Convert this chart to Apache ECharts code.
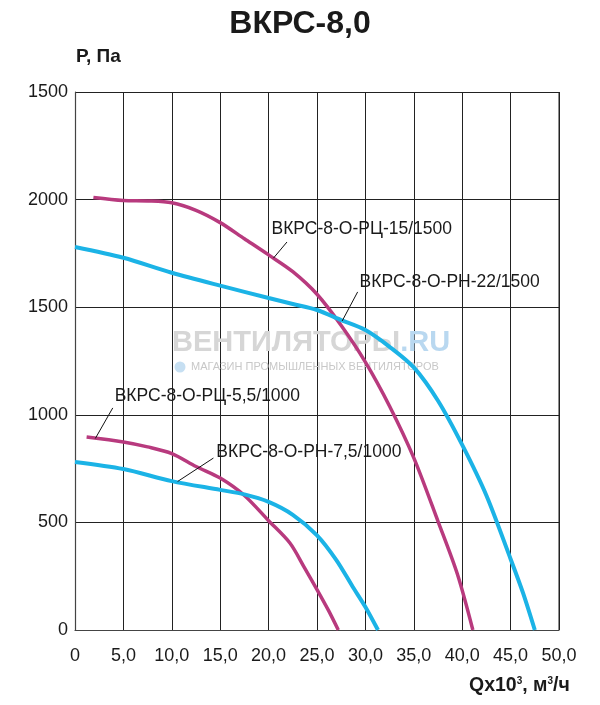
<!DOCTYPE html>
<html><head><meta charset="utf-8">
<script src="https://cdn.jsdelivr.net/npm/echarts@6/dist/echarts.min.js"></script>
<style>html,body{margin:0;padding:0;background:#fff}#c{width:600px;height:705px}</style>
</head><body><div id="c"></div>
<script>
// ---- data ----
const xTickLabels = ['0','5,0','10,0','15,0','20,0','25,0','30,0','35,0','40,0','45,0','50,0'];
const yTickLabels = ['0','500','1000','1500','2000','1500'];

const rc15_q = [1.9, 5.0, 7.5, 10.0, 12.5, 15.0, 17.5, 20.0, 22.5, 25.0, 27.5, 30.0, 32.5, 35.0, 37.5, 39.5, 41.1];
const rc15_p = [2010, 1996, 1994, 1985, 1950, 1893, 1818, 1743, 1665, 1560, 1415, 1245, 1040, 800, 505, 260, 0];

const rn22_q = [0, 5.0, 10.0, 15.0, 20.0, 22.5, 25.0, 27.5, 30.0, 32.5, 35.0, 37.5, 40.0, 42.5, 45.0, 46.3, 47.5];
const rn22_p = [1780, 1730, 1660, 1600, 1543, 1515, 1487, 1440, 1394, 1316, 1220, 1065, 860, 625, 330, 170, 0];

const rc55_q = [1.2, 5.0, 7.5, 10.0, 12.5, 15.0, 17.5, 20.0, 22.2, 23.7, 25.0, 26.2, 27.2];
const rc55_p = [897, 874, 851, 820, 760, 706, 625, 508, 404, 290, 188, 90, 0];

const rn75_q = [0, 5.0, 10.0, 15.0, 17.5, 20.0, 22.5, 25.0, 27.0, 28.7, 30.0, 31.3];
const rn75_p = [781, 748, 692, 651, 630, 595, 535, 440, 325, 200, 107, 0];

const seriesNames = ['ВКРС-8-О-РЦ-15/1500','ВКРС-8-О-РН-22/1500','ВКРС-8-О-РЦ-5,5/1000','ВКРС-8-О-РН-7,5/1000'];
// leader lines: from label (q,p) to curve point (q,p)
const leaderFrom = [[21.9,1803],[29.2,1571],[3.9,1032],[14.3,799]];
const leaderTo   = [[20.5,1728],[27.6,1436],[2.1,890],[10.6,690]];
const labelAt    = [[20.3,1863],[29.4,1617],[4.1,1087],[14.6,827]];

const MAG = '#b83a7e', BLUE = '#1bb3e6';
function pairs(q,p){return q.map((v,i)=>[v,p[i]]);}

const chart = echarts.init(document.getElementById('c'), null, {renderer:'canvas'});
const FONT = 'Liberation Sans, Arial, sans-serif';

function mkSeries(i, q, p, color, width){
  return {
    name: seriesNames[i], type:'line', data: pairs(q,p), smooth:0.3, showSymbol:false,
    lineStyle:{color, width}, z:3,
    markLine:{silent:true, symbol:['none','none'], animation:false,
      lineStyle:{color:'#111', width:1, type:'solid'}, label:{show:false},
      data:[[{coord:leaderFrom[i]},{coord:leaderTo[i]}]]},
    markPoint:{silent:true, symbol:'circle', symbolSize:0, animation:false,
      label:{show:true, position:'right', distance:0, formatter: seriesNames[i],
        color:'#1a1a1a', fontSize:17.5, fontFamily:FONT},
      data:[{coord:labelAt[i]}]}
  };
}

chart.setOption({
  animation:false,
  title:{text:'ВКРС-8,0', left:'center', top:3,
    textStyle:{fontSize:32, fontWeight:'bold', fontFamily:FONT, color:'#1a1a1a'}},
  grid:{left:75, right:41, top:92, bottom:75},
  xAxis:{type:'value', min:0, max:50, interval:5,
    axisLine:{show:true, lineStyle:{color:'#444', width:1.2}}, axisTick:{show:false},
    splitLine:{show:true, lineStyle:{color:'#222', width:1}},
    axisLabel:{color:'#1a1a1a', fontSize:18, fontFamily:FONT, margin:17,
      formatter:(v)=>xTickLabels[Math.round(v/5)]}},
  yAxis:{type:'value', min:0, max:2500, interval:500,
    axisLine:{show:true, lineStyle:{color:'#444', width:1.2}}, axisTick:{show:false},
    splitLine:{show:true, lineStyle:{color:'#222', width:1}},
    axisLabel:{color:'#1a1a1a', fontSize:18, fontFamily:FONT, margin:7, padding:[3,0,0,0],
      formatter:(v)=>yTickLabels[Math.round(v/500)]}},
  graphic:[
    {type:'rect', shape:{x:559, y:92, width:0, height:538}, style:{stroke:'#444', lineWidth:1.2, fill:'none'}},
    {type:'text', left:76, top:47, style:{text:'Р, Па', font:'bold 19px '+FONT, fill:'#1a1a1a'}},
    {type:'text', left:469, top:676, style:{
      text:'{b|Qx10}{s|3}{b|, м}{s|3}{b|/ч}',
      rich:{b:{font:'bold 19.5px '+FONT, fill:'#1a1a1a', color:'#1a1a1a'},
            s:{font:'bold 10px '+FONT, fill:'#1a1a1a', color:'#1a1a1a', verticalAlign:'top', padding:[0,0,9,0]}}}},
    {type:'text', left:172, top:328, z:1, style:{
      text:'{g|ВЕНТИЛЯТОРЫ}{bl|.RU}',
      rich:{g:{font:'bold 29px '+FONT, fill:'#d6d6d6', color:'#d6d6d6'},
            bl:{font:'bold 29px '+FONT, fill:'#b9d8f0', color:'#b9d8f0'}}}},
    {type:'circle', shape:{cx:180, cy:367, r:5.5}, z:1, style:{fill:'#c6dff2'}},
    {type:'text', left:191, top:361, z:1, style:{text:'МАГАЗИН ПРОМЫШЛЕННЫХ ВЕНТИЛЯТОРОВ', font:'11px '+FONT, fill:'#c8c8c8'}}
  ],
  series:[
    mkSeries(0, rc15_q, rc15_p, MAG, 3.5),
    mkSeries(1, rn22_q, rn22_p, BLUE, 4),
    mkSeries(2, rc55_q, rc55_p, MAG, 3.5),
    mkSeries(3, rn75_q, rn75_p, BLUE, 4)
  ]
});
</script></body></html>
